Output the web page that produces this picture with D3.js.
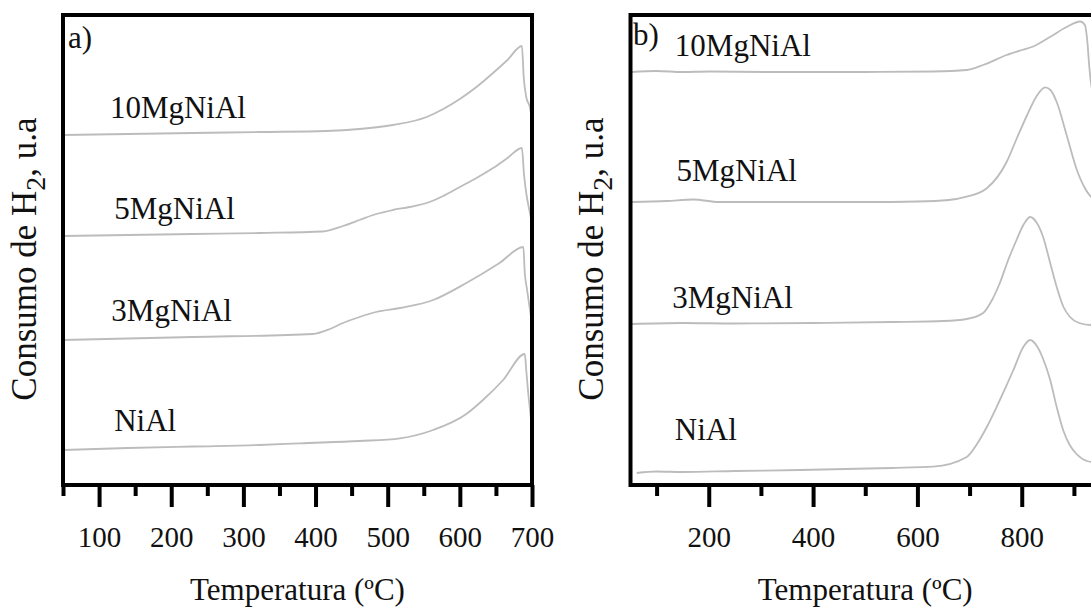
<!DOCTYPE html>
<html>
<head>
<meta charset="utf-8">
<script src="https://cdn.jsdelivr.net/npm/d3@7"></script>
<style>
  html, body { margin: 0; padding: 0; background: #fff; }
  svg { display: block; }
  text { font-family: "Liberation Serif", "Times New Roman", serif; fill: #111; }
</style>
</head>
<body>
<svg id="chart" width="1091" height="611"></svg>
<script>
// ---------- Data (temperature °C, H2 consumption a.u.) ----------
const seriesNames = ["10MgNiAl", "5MgNiAl", "3MgNiAl", "NiAl"];

// Panel a)
const a_10MgNiAl = [[50,35.0],[140,35.1],[230,35.2],[323,35.3],[415,35.4],[461,35.6],[507,36.0],[554,36.8],[577,37.6],[600,38.6],[623,39.8],[646,41.2],[666,42.5],[686,43.9],[688.5,40.8],[692,38.8],[697,37.8],[700,36.5]];
const a_5MgNiAl  = [[50,24.9],[140,25.0],[230,25.1],[323,25.2],[410,25.35],[438,25.9],[461,26.5],[484,27.1],[507,27.5],[530,27.8],[554,28.2],[577,28.9],[600,29.8],[623,30.7],[646,31.7],[666,32.7],[686,33.7],[689,31.0],[692,29.2],[696,27.6],[700,26.2]];
const a_3MgNiAl  = [[50,14.5],[230,14.8],[396,15.1],[420,15.6],[438,16.2],[461,16.8],[484,17.3],[517,17.7],[563,18.5],[609,20.2],[655,22.2],[688,23.8],[690,21.2],[693,19.6],[697,17.6],[700,16.2]];
const a_NiAl     = [[50,3.5],[140,3.7],[230,3.85],[323,4.0],[378,4.17],[461,4.4],[517,4.67],[563,5.5],[609,7.1],[632,8.5],[660,10.5],[690,13.1],[692,11.5],[695,9.0],[698,7.0],[700,5.5]];

// Panel b)
const b_10MgNiAl = [[52,41.3],[100,41.4],[150,41.3],[200,41.35],[311,41.3],[400,41.3],[500,41.3],[630,41.35],[694.5,41.5],[726,42.0],[771,43.0],[800,43.5],[822,43.85],[854,44.8],[886,45.8],[912,46.35],[921,46.0],[926,44.2],[929.5,41.8],[935,39.5],[950,38.0]];
const b_5MgNiAl  = [[52,28.3],[120,28.4],[170,28.55],[220,28.3],[311,28.3],[400,28.3],[500,28.3],[600,28.35],[660,28.5],[694.5,28.83],[733,29.67],[771,32.3],[790,34.6],[809.5,36.9],[828.7,38.9],[844.6,39.77],[855,39.5],[867,38.3],[886,35.0],[905,31.6],[921,29.7],[933,28.83],[950,28.5]];
const b_3MgNiAl  = [[52,16.1],[150,16.2],[250,16.15],[400,16.2],[550,16.3],[650,16.4],[694.5,16.6],[726,17.2],[742,18.4],[758,20.2],[774,22.5],[790,24.5],[803,26.0],[816,26.8],[829,26.2],[841,24.8],[854,22.3],[867,19.8],[880,17.8],[892.5,16.8],[910,16.2],[933,16.0],[950,16.0]];
const b_NiAl     = [[62,1.2],[100,1.35],[150,1.3],[250,1.4],[375,1.5],[550,1.7],[630,1.83],[694.5,2.8],[713,4.0],[733,5.8],[758,8.5],[784,11.5],[803,13.8],[816,14.5],[829,13.9],[841,12.6],[854,10.6],[867,7.8],[880,5.4],[892,4.0],[905,3.1],[925,2.4],[950,2.2]];

// Axis ticks
const ticksA_major = [100,200,300,400,500,600,700];
const ticksA_minor = [50,150,250,350,450,550,650];
const ticksB_major = [200,400,600,800];
const ticksB_minor = [100,300,500,700,900];

// Labels
const labelsA = [
  {name:"10MgNiAl", t:115, v:36.7},
  {name:"5MgNiAl",  t:121, v:26.6},
  {name:"3MgNiAl",  t:117, v:16.4},
  {name:"NiAl",     t:121, v:5.4}
];
const labelsB = [
  {name:"10MgNiAl", t:135, v:42.9},
  {name:"5MgNiAl",  t:138, v:30.4},
  {name:"3MgNiAl",  t:130, v:17.7},
  {name:"NiAl",     t:135, v:4.5}
];
const xTitle = "Temperatura (ºC)";
const yTitleMain = "Consumo de H";
const yTitleSub = "2";
const yTitleEnd = ", u.a";

// ---------- Drawing ----------
const svg = d3.select("#chart");
const plotTop = 15, plotBottom = 485;
const y = d3.scaleLinear().domain([0, 47]).range([plotBottom, plotTop]);

const panels = [
  {id:"a", letter:"a)", x0:63, x1:532, domain:[50,700], series:[a_10MgNiAl,a_5MgNiAl,a_3MgNiAl,a_NiAl],
   major:ticksA_major, minor:ticksA_minor, labels:labelsA, letterPos:[68,48], ytx:36},
  {id:"b", letter:"b)", x0:630.5, x1:1100, domain:[50,950], series:[b_10MgNiAl,b_5MgNiAl,b_3MgNiAl,b_NiAl],
   major:ticksB_major, minor:ticksB_minor, labels:labelsB, letterPos:[633,45], ytx:603}
];

panels.forEach(p => {
  const x = d3.scaleLinear().domain(p.domain).range([p.x0, p.x1]);
  const g = svg.append("g");

  g.append("clipPath").attr("id","clip-"+p.id)
    .append("rect").attr("x", p.x0).attr("y", plotTop).attr("width", p.x1-p.x0).attr("height", plotBottom-plotTop);

  // curves
  const line = d3.line().x(d => x(d[0])).y(d => y(d[1])).curve(d3.curveMonotoneX);
  g.append("g").attr("clip-path","url(#clip-"+p.id+")")
    .selectAll("path").data(p.series).join("path")
    .attr("d", line)
    .attr("fill","none")
    .attr("stroke","#bcbcbc")
    .attr("stroke-width",1.8);

  // minor ticks
  const axMinor = d3.axisBottom(x).tickValues(p.minor).tickSize(11).tickFormat("");
  g.append("g").attr("transform",`translate(0,${plotBottom})`).call(axMinor)
    .call(s => s.select(".domain").remove())
    .call(s => s.selectAll("line").attr("stroke","#000").attr("stroke-width",4));

  // major ticks
  const axMajor = d3.axisBottom(x).tickValues(p.major).tickSize(22).tickPadding(19).tickFormat(d3.format("d"));
  g.append("g").attr("transform",`translate(0,${plotBottom})`).call(axMajor)
    .call(s => s.select(".domain").remove())
    .call(s => s.selectAll("line").attr("stroke","#000").attr("stroke-width",4))
    .call(s => s.selectAll("text").attr("font-size",29).attr("fill","#111")
      .attr("font-family","'Liberation Serif', serif"));

  // frame
  g.append("rect").attr("x", p.x0).attr("y", plotTop).attr("width", p.x1-p.x0).attr("height", plotBottom-plotTop)
    .attr("fill","none").attr("stroke","#000").attr("stroke-width",4);

  // series labels
  g.selectAll("text.lbl").data(p.labels).join("text").attr("class","lbl")
    .attr("x", d => x(d.t)).attr("y", d => y(d.v))
    .attr("font-size",31).text(d => d.name);

  // panel letter
  g.append("text").attr("x", p.letterPos[0]).attr("y", p.letterPos[1]).attr("font-size",31).text(p.letter);

  // x title
  g.append("text").attr("x",(p.x0+p.x1)/2).attr("y",600).attr("text-anchor","middle")
    .attr("font-size",31).text(xTitle);

  // y title
  const yt = g.append("text").attr("transform",`translate(${p.ytx},259) rotate(-90)`)
    .attr("text-anchor","middle").attr("font-size",35);
  yt.append("tspan").text(yTitleMain);
  yt.append("tspan").attr("font-size",28).attr("dy",9).text(yTitleSub);
  yt.append("tspan").attr("dy",-9).text(yTitleEnd);
});
</script>
</body>
</html>
